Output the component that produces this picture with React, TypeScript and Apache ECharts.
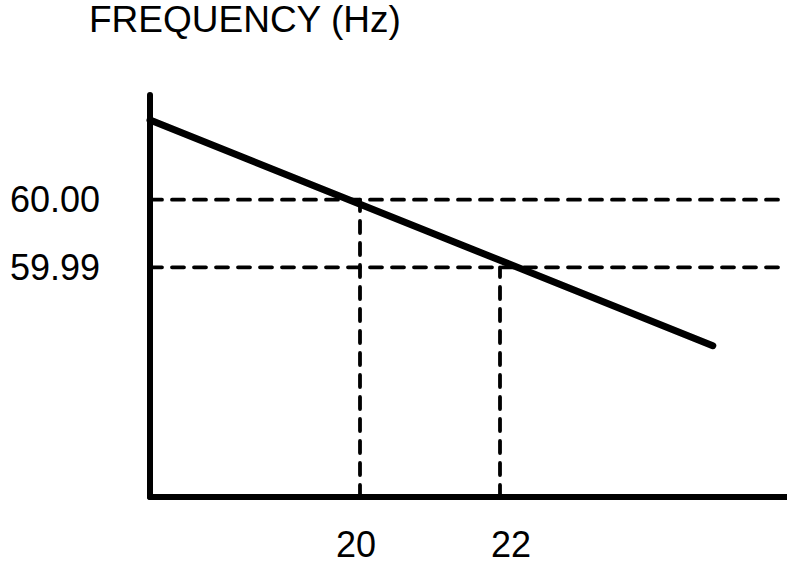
import React, { useEffect, useRef } from "react";
import * as echarts from "echarts";

const titleText = "FREQUENCY (Hz)";
const xTickValues = [20, 22];
const yTickValues = [60.0, 59.99];
const lineX = [17.0, 25.04];
const lineY = [60.0118, 59.9784];
const xMin = 17;
const xMax = 26.1;
const yMin = 59.956;
const yMax = 60.0155;

export default function App() {
  const ref = useRef<HTMLDivElement>(null);
  useEffect(() => {
    if (!ref.current) return;
    const chart = echarts.init(ref.current, undefined, { renderer: "svg" });
    const font = "'Liberation Sans', Arial, Helvetica, sans-serif";
    const dash = { color: "#000", width: 3.8, type: [12, 10] as number[], cap: "round" as const };
    const guideSeries: any[] = [];
    yTickValues.forEach((yv) => {
      guideSeries.push({
        type: "line",
        data: [[xMin, yv], [xMax, yv]],
        symbol: "none",
        lineStyle: dash,
        silent: true,
        z: 1,
      });
    });
    xTickValues.forEach((xv, i) => {
      guideSeries.push({
        type: "line",
        data: [[xv, yMin], [xv, yTickValues[i]]],
        symbol: "none",
        lineStyle: dash,
        silent: true,
        z: 1,
      });
    });
    const labelStyle = { fontFamily: font, fontSize: 36, color: "#000" };
    chart.setOption({
      animation: false,
      backgroundColor: "#fff",
      title: {
        text: titleText,
        left: 89,
        top: 1,
        padding: 0,
        textStyle: { fontFamily: font, fontSize: 37, fontWeight: "normal", color: "#000" },
      },
      grid: { left: 150, right: 0, top: 95, bottom: 72, containLabel: false },
      xAxis: {
        type: "value",
        min: xMin,
        max: xMax,
        interval: 1,
        axisLine: { show: true, lineStyle: { color: "#000", width: 6 } },
        axisTick: { show: false },
        splitLine: { show: false },
        axisLabel: {
          margin: 29,
          ...labelStyle,
          showMaxLabel: false,
          rich: {
            a: { ...labelStyle, padding: [0, 8, 0, 0] },
            b: { ...labelStyle, padding: [0, 0, 0, 22] },
          },
          formatter: (v: number) => {
            const idx = xTickValues.findIndex((t) => Math.abs(t - v) < 1e-6);
            if (idx < 0) return "";
            return idx === 0 ? `{a|${xTickValues[idx]}}` : `{b|${xTickValues[idx]}}`;
          },
        },
      },
      yAxis: {
        type: "value",
        min: yMin,
        max: yMax,
        interval: 0.001,
        axisLine: { show: true, lineStyle: { color: "#000", width: 6 } },
        axisTick: { show: false },
        splitLine: { show: false },
        axisLabel: {
          margin: 50,
          ...labelStyle,
          showMaxLabel: false,
          showMinLabel: false,
          formatter: (v: number) => {
            const hit = yTickValues.find((t) => Math.abs(t - v) < 1e-6);
            return hit !== undefined ? hit.toFixed(2) : "";
          },
        },
      },
      series: [
        ...guideSeries,
        {
          type: "line",
          data: lineX.map((x, i) => [x, lineY[i]]),
          symbol: "none",
          lineStyle: { color: "#000", width: 7, cap: "round" },
          z: 3,
        },
      ],
    });
    return () => chart.dispose();
  }, []);
  return (
    <div
      ref={ref}
      style={{ position: "absolute", left: 0, top: 0, width: 787, height: 569 }}
    />
  );
}
